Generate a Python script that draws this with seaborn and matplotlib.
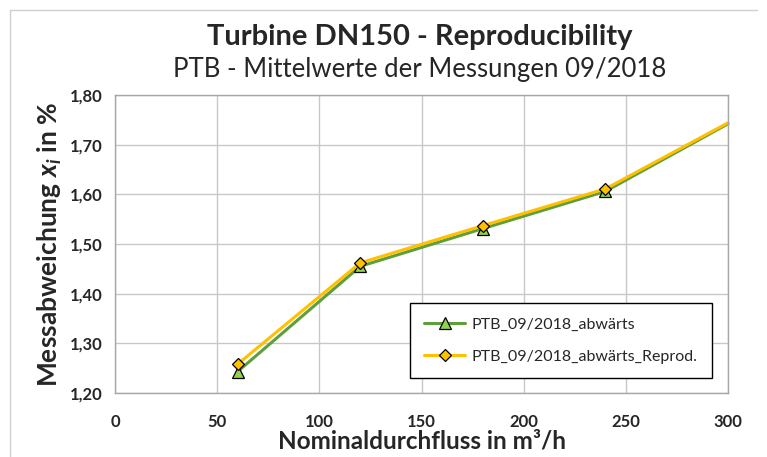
import matplotlib
matplotlib.use("Agg")
import matplotlib.pyplot as plt
import seaborn as sns
import pandas as pd
from matplotlib.lines import Line2D
from matplotlib.ticker import FuncFormatter, MultipleLocator

# data
flow = [60, 120, 180, 240, 300]
abwaerts = [1.243, 1.455, 1.531, 1.606, 1.742]
abwaerts_reprod = [1.258, 1.462, 1.537, 1.611, 1.744]
labels = ["PTB_09/2018_abwärts", "PTB_09/2018_abwärts_Reprod."]

title = "Turbine DN150 - Reproducibility"
subtitle = "PTB - Mittelwerte der Messungen 09/2018"

sns.set_style("white")
plt.rcParams["font.family"] = ["Lato", "DejaVu Sans"]
plt.rcParams["mathtext.fontset"] = "custom"
plt.rcParams["mathtext.it"] = "Lato:italic:bold"
plt.rcParams["mathtext.rm"] = "Lato:bold"

fig = plt.figure(figsize=(7.67, 4.57), dpi=100)
ax = fig.add_axes([115 / 767, 1 - 393 / 457, (728 - 115) / 767, (393 - 95) / 457])

df = pd.DataFrame({"flow": flow, "a": abwaerts, "b": abwaerts_reprod})

# -----------------------------
# lines
# -----------------------------
sns.lineplot(data=df, x="flow", y="a", ax=ax, color="#5E9E3C", lw=2.2,
             marker="^", markersize=8, markerfacecolor="#92D050",
             markeredgecolor="black", markeredgewidth=0.9,
             markevery=[0, 1, 2, 3], clip_on=False)
sns.lineplot(data=df, x="flow", y="b", ax=ax, color="#FFC000", lw=2.2,
             marker="D", markersize=6.5, markerfacecolor="#FFC000",
             markeredgecolor="black", markeredgewidth=0.9,
             markevery=[0, 1, 2, 3], clip_on=False)

ax.set_xlim(0, 300)
ax.set_ylim(1.2, 1.8)
ax.xaxis.set_major_locator(MultipleLocator(50))
ax.yaxis.set_major_locator(MultipleLocator(0.1))
ax.yaxis.set_major_formatter(FuncFormatter(lambda v, p: f"{v:.2f}".replace(".", ",")))
ax.grid(True, color="#C8C8C8", lw=1)
for s in ax.spines.values():
    s.set_color("#A6A6A6")
    s.set_linewidth(1)
ax.tick_params(axis="both", direction="out", length=5, width=1, color="#A6A6A6",
               labelsize=12, pad=4)
for t in ax.get_xticklabels() + ax.get_yticklabels():
    t.set_fontweight("bold")
ax.tick_params(axis="x", pad=10)

ax.set_xlabel("Nominaldurchfluss in m³/h", fontsize=17.5, fontweight="bold", labelpad=0)
ax.set_ylabel(r"Messabweichung $x_i$ in %", fontsize=19, fontweight="bold", labelpad=4)

fig.text(0.547, 1 - 45 / 457, title, ha="center", va="baseline", fontsize=21, fontweight="bold")
fig.text(0.547, 1 - 77 / 457, subtitle, ha="center", va="baseline", fontsize=18.5)

# -----------------------------
# legend
# -----------------------------
handles = [
    Line2D([], [], color="#5E9E3C", lw=2.2, marker="^", markersize=8,
           markerfacecolor="#92D050", markeredgecolor="black", markeredgewidth=0.9),
    Line2D([], [], color="#FFC000", lw=2.2, marker="D", markersize=6.5,
           markerfacecolor="#FFC000", markeredgecolor="black", markeredgewidth=0.9),
]
leg = ax.legend(handles, labels, loc="lower right", bbox_to_anchor=(0.974, 0.05),
                borderaxespad=0, fontsize=11.5, frameon=True, fancybox=False,
                edgecolor="black", framealpha=1, borderpad=0.9, labelspacing=1.1,
                handlelength=2.6, handletextpad=0.4)
leg.get_frame().set_linewidth(1)

# chart area border
fig.add_artist(Line2D([10 / 767, 757 / 767], [1 - 10 / 457, 1 - 10 / 457],
                      color="#D0D0D0", lw=1))
fig.add_artist(Line2D([10 / 767, 10 / 767], [0, 1 - 10 / 457], color="#D0D0D0", lw=1))

fig.savefig("out.png", dpi=100)
plt.close(fig)
